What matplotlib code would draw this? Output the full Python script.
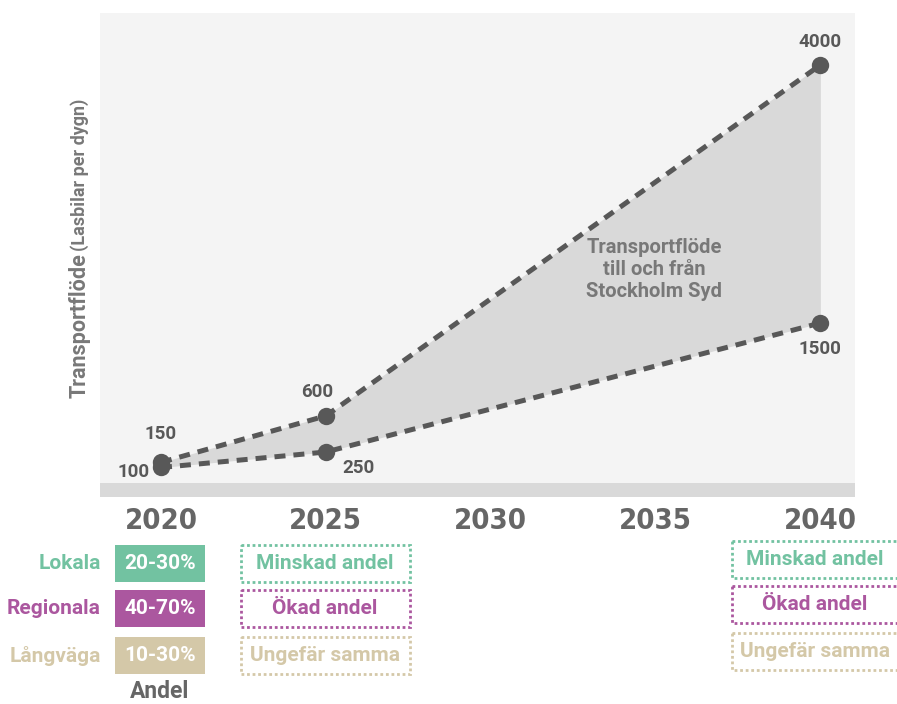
import matplotlib
matplotlib.use("Agg")
import matplotlib.pyplot as plt
from matplotlib import font_manager
from matplotlib.patches import Rectangle

# Flow of trucks per day, low and high scenario
years = [2020, 2025, 2040]
flow_low = [100, 250, 1500]
flow_high = [150, 600, 4000]
year_ticks = [2020, 2025, 2030, 2035, 2040]

# Share of traffic by distance class
groups = ["Lokala", "Regionala", "Långväga"]
shares = ["20-30%", "40-70%", "10-30%"]
trends = ["Minskad andel", "Ökad andel", "Ungefär samma"]
group_colors = ["#72c2a1", "#ab579f", "#d4c8a8"]

DARK = "#585858"
MID = "#787878"
FONT = ["Roboto", "DejaVu Sans"]


def narrow_bold():
    """Pick a condensed bold face if one is installed."""
    for f in font_manager.fontManager.ttflist:
        narrow = ("Narrow" in f.name or "Condensed" in f.name
                  or str(f.stretch) in ("condensed", "semi-condensed", "75", "87"))
        if narrow and f.weight in ("bold", 700, "700"):
            return font_manager.FontProperties(fname=f.fname)
    return None


W, H = 897, 704
fig = plt.figure(figsize=(W / 100, H / 100), dpi=100)


# main chart area, pixel box 100..855 x 13..497
ax = fig.add_axes([100 / W, 1 - 497 / H, 755 / W, 484 / H])
ax.set_facecolor("#f4f4f4")
for s in ax.spines.values():
    s.set_visible(False)
ax.set_xlim(2018.15, 2041.05)
ax.set_ylim(-186, 4504)
ax.axhspan(-186, -50, color="#d9d9d9", lw=0)

ax.fill_between(years, flow_low, flow_high, color="#d9d9d9", lw=0)
for series in (flow_high, flow_low):
    ax.plot(years, series, color=DARK, lw=3.6, dashes=(2.2, 1.6),
            dash_capstyle="butt", marker="o", markersize=12.5,
            markeredgewidth=0, zorder=3)

ax.set_yticks([])
ax.set_xticks(year_ticks)
tick_fp = narrow_bold()
if tick_fp is not None:
    tick_fp.set_size(21)
    ax.set_xticklabels([str(y) for y in year_ticks], fontproperties=tick_fp,
                       color="#666666")
else:
    ax.set_xticklabels([str(y) for y in year_ticks], family=FONT,
                       fontweight="bold", fontsize=17, color="#666666")
ax.tick_params(axis="x", length=0, pad=7)

lbl = dict(family=FONT, fontweight="bold", fontsize=13.5, color=DARK)
ax.annotate("150", (2020, 150), xytext=(0, 14), textcoords="offset points",
            ha="center", va="bottom", **lbl)
ax.annotate("100", (2020, 100), xytext=(-8, -3), textcoords="offset points",
            ha="right", va="center", **lbl)
ax.annotate("600", (2025, 600), xytext=(-6, 11), textcoords="offset points",
            ha="center", va="bottom", **lbl)
ax.annotate("250", (2025, 250), xytext=(12, -5), textcoords="offset points",
            ha="left", va="top", **lbl)
ax.annotate("4000", (2040, 4000), xytext=(0, 10), textcoords="offset points",
            ha="center", va="bottom", **lbl)
ax.annotate("1500", (2040, 1500), xytext=(0, -12), textcoords="offset points",
            ha="center", va="top", **lbl)

ax.text(2034.95, 2020, "Transportflöde\ntill och från\nStockholm Syd",
        ha="center", va="center", family=FONT, fontweight="bold",
        fontsize=14.5, color=MID, linespacing=1.2)

# overlay in pixel coordinates for the axis title and the share table
ov = fig.add_axes([0, 0, 1, 1], zorder=-1)
ov.set_xlim(0, W)
ov.set_ylim(H, 0)
ov.axis("off")
ov.patch.set_alpha(0)

ov.text(80, 398, "Transportflöde", rotation=90, rotation_mode="anchor",
        ha="left", va="center", family=FONT, fontweight="bold",
        fontsize=15.5, color=MID)
ov.text(80, 251, "(Lasbilar per dygn)", rotation=90, rotation_mode="anchor",
        ha="left", va="center", family=FONT, fontweight="bold",
        fontsize=13, color=MID)

row_tops = [545, 590, 637]
row_h = 37
for top, name, share, trend, c in zip(row_tops, groups, shares, trends,
                                      group_colors):
    cy = top + row_h / 2
    ov.text(101, cy, name, ha="right", va="center", family=FONT,
            fontweight="bold", fontsize=15, color=c)
    ov.add_patch(Rectangle((115, top), 90, row_h, color=c, lw=0))
    ov.text(160, cy, share, ha="center", va="center", family=FONT,
            fontweight="bold", fontsize=15, color="white")
    ov.add_patch(Rectangle((240.5, top), 169, row_h, fill=False, ec=c,
                           lw=2, ls=(0, (1, 1))))
    ov.text(325, cy, trend, ha="center", va="center", family=FONT,
            fontweight="bold", fontsize=15, color=c)
    ov.add_patch(Rectangle((732, top - 4), 200, row_h, fill=False, ec=c,
                           lw=2, ls=(0, (1, 1)), clip_on=False))
    ov.text(815, cy - 4, trend, ha="center", va="center", family=FONT,
            fontweight="bold", fontsize=15, color=c)

ov.text(160, 692, "Andel", ha="center", va="center", family=FONT,
        fontweight="bold", fontsize=16.5, color="#666666")

fig.savefig("out.png", dpi=100)
